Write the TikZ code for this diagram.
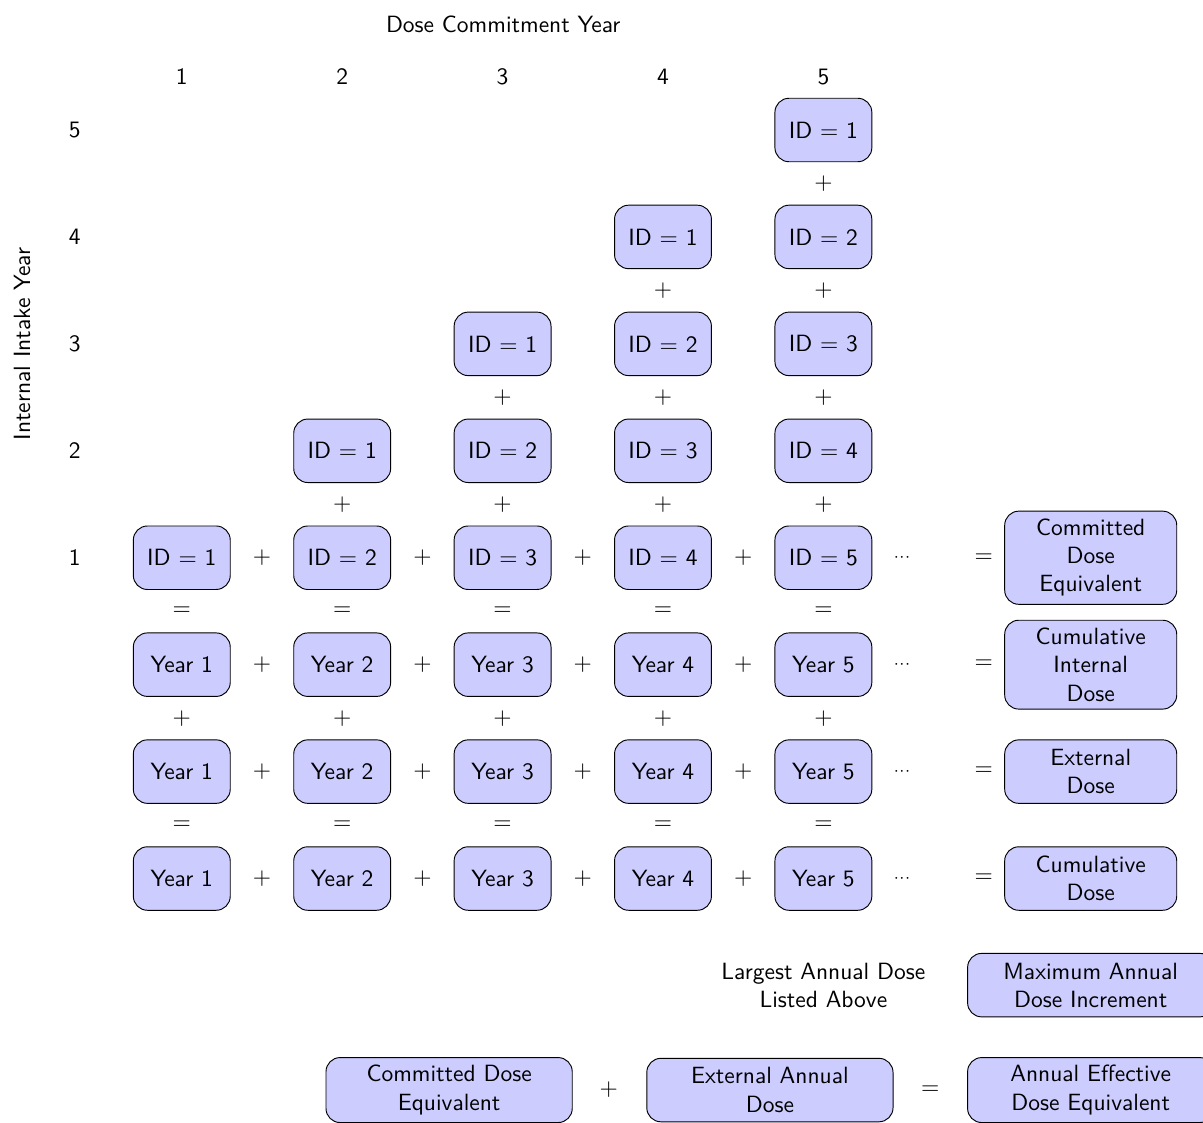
\documentclass[tikz,border=0pt]{standalone}
\usepackage{amsmath}
\usepackage{tikz}
\usetikzlibrary{positioning}

\begin{document}
\begin{tikzpicture}
	[
	font=\sffamily,
	dose/.style = {draw,fill=blue!20,rounded corners=6pt,minimum width=1.45cm,minimum height=0.95cm},
	total/.style = {dose,text width=2.34cm,align=center},
	wide/.style = {dose,text width=3.45cm,align=center}
	]
	\useasboundingbox (0,0) rectangle (18,-16.79);

	\node (title) at (7.53,-0.36) {Dose Commitment Year};
	\node[rotate=90] (intake) at (0.33,-5.145) {Internal Intake Year};
	\foreach \c in {1,...,5} {
		\node (col\c) at (0.32+2.4*\c,-1.15) {\c};
		\node (row\c) at (1.12,-9.945+1.6*\c) {\c};
	}

	% internal doses, one column per commitment year
	\foreach \c in {1,...,5}
		\foreach \k in {1,...,\c} {
			\pgfmathtruncatemacro\n{\c-\k+1}
			\node[dose] (id\k\c) at (0.32+2.4*\c,-9.945+1.6*\k) {ID $=$ \n};
		}
	\foreach \c in {2,...,5}
		\foreach \k in {2,...,\c}
			\node (vplus\k\c) at (0.32+2.4*\c,-10.745+1.6*\k) {$+$};

	% yearly rows
	\foreach \r/\y in {cin/-9.945,ext/-11.545,cum/-13.145}
		\foreach \c in {1,...,5}
			\node[dose] (\r\c) at (0.32+2.4*\c,\y) {Year \c};
	\foreach \c in {1,...,5} {
		\node (eqa\c) at (0.32+2.4*\c,-9.145) {$=$};
		\node (plb\c) at (0.32+2.4*\c,-10.745) {$+$};
		\node (eqc\c) at (0.32+2.4*\c,-12.345) {$=$};
	}
	\foreach \r/\y in {id/-8.345,cin/-9.945,ext/-11.545,cum/-13.145} {
		\foreach \c in {1,...,4}
			\node (\r plus\c) at (1.52+2.4*\c,\y) {$+$};
		\node (\r dots) at (13.52,\y) {$\scriptstyle\cdots$};
		\node (\r eq) at (14.72,\y) {$=$};
	}

	\node[total] (cde) at (16.32,-8.345) {Committed\\Dose\\Equivalent};
	\node[total] (cid) at (16.32,-9.945) {Cumulative\\Internal\\Dose};
	\node[total] (exd) at (16.32,-11.545) {External\\Dose};
	\node[total] (cud) at (16.32,-13.145) {Cumulative\\Dose};

	\node[align=center] (largest) at (12.32,-14.74) {Largest Annual Dose\\Listed Above};
	\node[wide] (maxinc) at (16.32,-14.74) {Maximum Annual\\Dose Increment};

	\node[wide] (commit) at (6.72,-16.31) {Committed Dose\\Equivalent};
	\node (bplus) at (9.11,-16.31) {$+$};
	\node[wide] (extann) at (11.52,-16.31) {External Annual\\Dose};
	\node (beq) at (13.92,-16.31) {$=$};
	\node[wide] (annual) at (16.32,-16.31) {Annual Effective\\Dose Equivalent};
\end{tikzpicture}
\end{document}
